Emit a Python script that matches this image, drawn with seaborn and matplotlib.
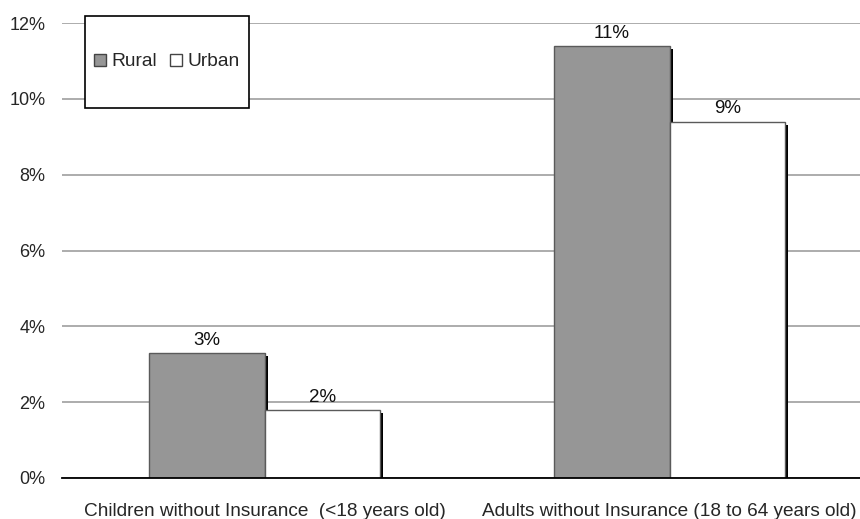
import matplotlib
matplotlib.use("Agg")
import matplotlib.pyplot as plt
import matplotlib.patheffects as pe
from matplotlib.patches import Patch, Rectangle
import seaborn as sns
import pandas as pd

categories = ["Children without Insurance  (<18 years old)",
              "Adults without Insurance (18 to 64 years old)"]
groups = ["Rural", "Urban"]
rural = [3.3, 11.4]
urban = [1.8, 9.4]
y_ticks = [0, 2, 4, 6, 8, 10, 12]

df = pd.DataFrame({
    "category": categories * 2,
    "group": [groups[0]] * 2 + [groups[1]] * 2,
    "value": rural + urban,
})

sns.set_style("white")
plt.rcParams["font.family"] = ["Liberation Sans", "DejaVu Sans"]

fig = plt.figure(figsize=(8.6, 5.19), dpi=100)
ax = fig.add_axes([62 / 860, 41 / 519, 810 / 860, 455 / 519])

palette = {"Rural": "#969696", "Urban": "#ffffff"}
sns.barplot(data=df, x="category", y="value", hue="group", order=categories,
            hue_order=groups, palette=palette, width=0.57, ax=ax,
            edgecolor="#5a5a5a", linewidth=1.0, legend=False, zorder=3)

shadow = [pe.SimplePatchShadow(offset=(2.3, -2.3), shadow_rgbFace="black", alpha=1.0),
          pe.Normal()]
for bar in ax.patches:
    bar.set_path_effects(shadow)

for container in ax.containers:
    ax.bar_label(container, labels=[f"{v:.0f}%" for v in container.datavalues],
                 padding=3, fontsize=13.5, color="#111111")

ax.set_xlim(-0.5, 1.5)
ax.set_ylim(0, 12)
ax.set_yticks(y_ticks)
ax.set_yticklabels([f"{t}%" for t in y_ticks], fontsize=13)
ax.yaxis.grid(True, color="#a6a6a6", linewidth=1.3, zorder=0)
ax.set_axisbelow(True)
ax.tick_params(axis="y", length=0, pad=12)

ax.set_xticks([-0.5, 0.5, 1.5], minor=True)
ax.tick_params(axis="x", which="minor", length=6, width=1, color="black", direction="out")
ax.tick_params(axis="x", which="major", length=0, pad=18)
for lbl in ax.get_xticklabels():
    lbl.set_fontsize(13.7)
ax.set_xlabel("")
ax.set_ylabel("")

for side in ["left", "right", "top"]:
    ax.spines[side].set_visible(False)
ax.spines["bottom"].set_color("black")
ax.spines["bottom"].set_linewidth(1.3)
ax.spines["bottom"].set_zorder(5)

# legend box
box_x0, box_y0 = 23 / 810, (455 - 92 + 7) / 455
box_w, box_h = 164 / 810, 92 / 455
ax.add_patch(Rectangle((box_x0, box_y0), box_w, box_h, transform=ax.transAxes,
                       facecolor="white", edgecolor="black", linewidth=1.2,
                       zorder=9, clip_on=False))
handles = [Patch(facecolor=palette[g], edgecolor="#444444", linewidth=1, label=g) for g in groups]
leg = ax.legend(handles=handles, ncol=2, loc="center",
                bbox_to_anchor=(box_x0 + box_w / 2, box_y0 + box_h / 2), fontsize=13.8,
                frameon=False, handlelength=0.6, handleheight=0.6,
                handletextpad=0.3, columnspacing=0.7, borderpad=0,
                borderaxespad=0)
leg.set_zorder(10)

fig.savefig("out.png", dpi=100)
